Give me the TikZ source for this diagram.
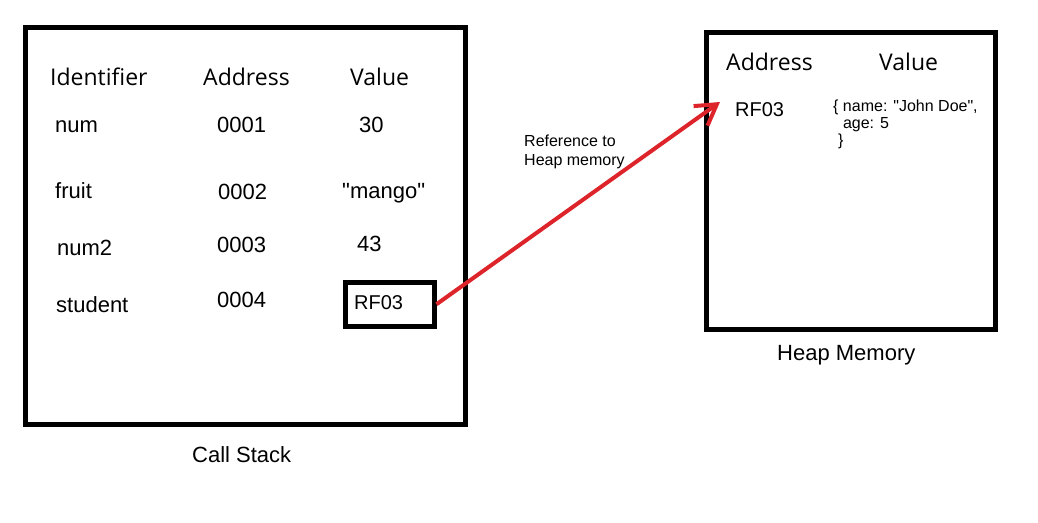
\documentclass[tikz,border=0pt]{standalone}
\usepackage{fontspec}
\setmainfont{Liberation Sans}[Ligatures=TeXOff]
\newfontfamily\headfont{Open Sans}
\usetikzlibrary{arrows.meta}
\definecolor{refred}{RGB}{221,36,42}
\begin{document}
\begin{tikzpicture}[x=1pt,y=-1pt,>={Straight Barb[length=20pt,width=24pt]},
  frame/.style={draw,line width=5pt,inner sep=0pt},
  hd/.style={anchor=base west,inner sep=0pt,font=\headfont\fontsize{23}{23}\selectfont},
  cell/.style={anchor=base west,inner sep=0pt,font=\fontsize{22}{22}\selectfont},
  refcell/.style={anchor=base west,inner sep=0pt,font=\fontsize{20}{20}\selectfont},
  note/.style={anchor=north west,inner sep=0pt,align=left}]
  \useasboundingbox(0,0)rectangle(1038,522);
  \node[frame,minimum width=439.5pt,minimum height=396.5pt](stack)at(245.25,225.75){};
  \node[frame,minimum width=289pt,minimum height=297.5pt](heap)at(851,180.75){};
  \node[frame,minimum width=88.5pt,minimum height=43.5pt](refbox)at(389.75,304.25){};
  % call stack
  \node[hd](idhd)at(50,85){Identifier};
  \node[hd](addrhd)at(203,85){Address};
  \node[hd](valhd)at(350,85){Value};
  \node[cell](num)at(55,132){num};
  \node[cell](addr1)at(217,132){0001};
  \node[cell](val1)at(359,132){30};
  \node[cell](fruit)at(55,198){fruit};
  \node[cell](addr2)at(218,199){0002};
  \node[cell](val2)at(342,198){"mango"};
  \node[cell](numtwo)at(57,255){num2};
  \node[cell](addr3)at(217,252){0003};
  \node[cell](val3)at(357,251){43};
  \node[cell](student)at(56,312){student};
  \node[cell](addr4)at(217,307){0004};
  \node[refcell](val4)at(354,309){RF03};
  \node[cell](stacklbl)at(192,462){Call Stack};
  % heap
  \node[hd](haddrhd)at(726,70){Address};
  \node[hd](hvalhd)at(879,70){Value};
  \node[refcell](haddr)at(735,116){RF03};
  \node[note,font=\fontsize{16}{17}\selectfont](hval)at(833,100)
    {\{ name: "John Doe",\\\phantom{\{ }age: 5\\\hspace*{5pt}\}};
  \node[cell](heaplbl)at(777,360){Heap Memory};
  % reference
  \coordinate(tip)at(720,102);
  \node[note,font=\fontsize{16}{19}\selectfont](reflbl)at(524,135){Reference to\\Heap memory};
  \draw[->,refred,line width=4pt](refbox.east)--(tip);
\end{tikzpicture}
\end{document}
